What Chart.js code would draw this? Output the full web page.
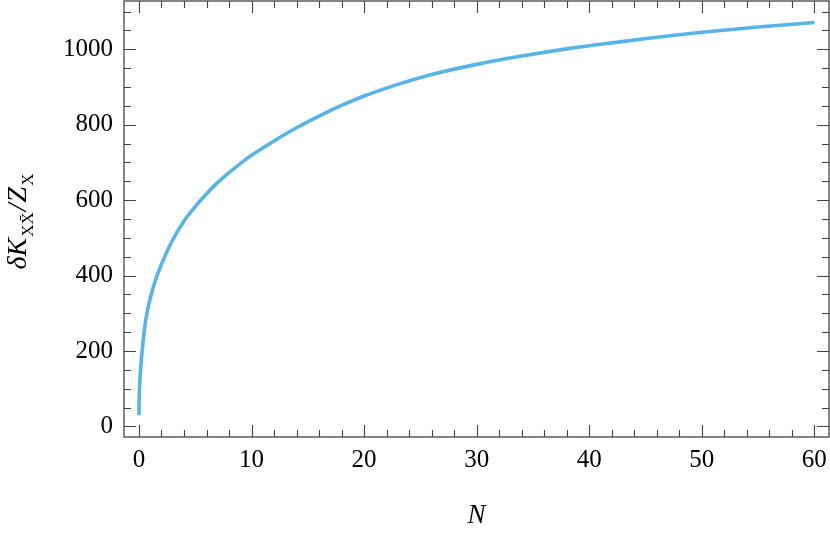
<!DOCTYPE html>
<html>
<head>
<meta charset="utf-8">
<script src="https://cdn.jsdelivr.net/npm/chart.js@4/dist/chart.umd.min.js"></script>
<style>
  html, body { margin: 0; padding: 0; background: #fff; }
  #wrap { width: 830px; height: 542px; }
</style>
</head>
<body>
<div id="wrap"><canvas id="grafico"></canvas></div>
<script>
// valores
const nValores = [0, 0.005, 0.02, 0.05, 0.1, 0.2, 0.3, 0.5, 0.75, 1, 1.5, 2, 3, 4, 5, 6, 7, 8, 9, 10, 12, 14, 16, 18, 20, 23, 26, 30, 34, 38, 42, 46, 50, 55, 60];
const kValores = [30, 53, 75, 102, 132, 174, 206, 262, 307, 340, 391, 430, 495, 545, 583, 617, 647, 673, 697, 719, 757, 792, 823, 851, 876, 907, 933, 960, 982, 1001, 1017, 1032, 1045, 1059, 1071];

const xTicks = [0, 10, 20, 30, 40, 50, 60];
const yTicks = [0, 200, 400, 600, 800, 1000];
const xMinorStep = 2;
const yMinorStep = 50;

const corFrame = '#444';
const fonteSerif = '"Liberation Serif", "DejaVu Serif", serif';

// ticks para dentro nos quatro lados (estilo Mathematica)
const pluginMoldura = {
    id: 'moldura',
    afterDatasetsDraw(chart) {
        const ctx = chart.ctx;
        const a = chart.chartArea;
        const sx = chart.scales.x, sy = chart.scales.y;
        ctx.save();
        ctx.strokeStyle = corFrame;
        ctx.lineWidth = 1.3;
        ctx.strokeRect(a.left, a.top, a.right - a.left, a.bottom - a.top);

        ctx.lineWidth = 1.1;
        ctx.beginPath();
        for (let v = Math.ceil(sx.min / xMinorStep) * xMinorStep; v <= sx.max; v += xMinorStep) {
            const px = Math.round(sx.getPixelForValue(v)) + 0.5;
            const len = xTicks.includes(v) ? 12 : 7;
            ctx.moveTo(px, a.bottom); ctx.lineTo(px, a.bottom - len);
            ctx.moveTo(px, a.top); ctx.lineTo(px, a.top + len);
        }
        for (let v = Math.ceil(sy.min / yMinorStep) * yMinorStep; v <= sy.max; v += yMinorStep) {
            const py = Math.round(sy.getPixelForValue(v)) + 0.5;
            const len = yTicks.includes(v) ? 12 : 7;
            ctx.moveTo(a.left, py); ctx.lineTo(a.left + len, py);
            ctx.moveTo(a.right, py); ctx.lineTo(a.right - len, py);
        }
        ctx.stroke();
        ctx.restore();
    },
    afterDraw(chart) {
        // titulo do eixo y com subscritos
        const ctx = chart.ctx;
        const partes = [
            { t: 'δK', f: 'italic 28px ' + fonteSerif, dy: 0 },
            { t: 'XX̄', f: '17px ' + fonteSerif, dy: 7 },
            { t: '/', f: 'italic 28px ' + fonteSerif, dy: 0 },
            { t: 'Z', f: 'italic 28px ' + fonteSerif, dy: 0 },
            { t: 'X', f: '17px ' + fonteSerif, dy: 7 }
        ];
        ctx.save();
        ctx.fillStyle = '#000';
        ctx.textBaseline = 'alphabetic';
        let total = 0;
        partes.forEach(p => { ctx.font = p.f; p.w = ctx.measureText(p.t).width + 1; total += p.w; });
        ctx.translate(26, 221);
        ctx.rotate(-Math.PI / 2);
        let x = -total / 2;
        partes.forEach(p => {
            ctx.font = p.f;
            ctx.fillText(p.t, x, p.dy);
            x += p.w;
        });
        ctx.restore();
    }
};

const ctx = document.getElementById('grafico').getContext('2d');
window.graficoK = new Chart(ctx, {
    type: 'line',
    data: {
        datasets: [{
            data: nValores.map((n, i) => ({ x: n, y: kValores[i] })),
            borderColor: '#56b4e9',
            borderWidth: 3.6,
            pointRadius: 0,
            fill: false,
            cubicInterpolationMode: 'monotone'
        }]
    },
    options: {
        responsive: true,
        maintainAspectRatio: false,
        animation: false,
        layout: { padding: { top: 1, right: 1, left: 0, bottom: 0 } },
        plugins: {
            legend: { display: false },
            tooltip: { enabled: false }
        },
        scales: {
            x: {
                type: 'linear',
                min: -1.33,
                max: 61.3,
                afterBuildTicks: s => { s.ticks = xTicks.map(v => ({ value: v })); },
                afterFit: s => { s.height = 105; s.paddingLeft = 0; s.paddingRight = 0; },
                grid: { display: false, drawTicks: false },
                border: { display: false },
                ticks: {
                    color: '#000',
                    padding: 8,
                    maxRotation: 0,
                    font: { family: fonteSerif, size: 25 },
                    callback: v => String(v)
                },
                title: {
                    display: true,
                    text: 'N',
                    color: '#000',
                    padding: { top: 16, bottom: 10 },
                    font: { family: fonteSerif, size: 27, style: 'italic' }
                }
            },
            y: {
                type: 'linear',
                min: -28,
                max: 1128,
                afterBuildTicks: s => { s.ticks = yTicks.map(v => ({ value: v })); },
                afterFit: s => { s.width = 124; s.paddingTop = 0; s.paddingBottom = 0; },
                grid: { display: false, drawTicks: false },
                border: { display: false },
                ticks: {
                    color: '#000',
                    padding: 11,
                    font: { family: fonteSerif, size: 25 },
                    callback: v => String(v)
                }
            }
        }
    },
    plugins: [pluginMoldura]
});
</script>
</body>
</html>
